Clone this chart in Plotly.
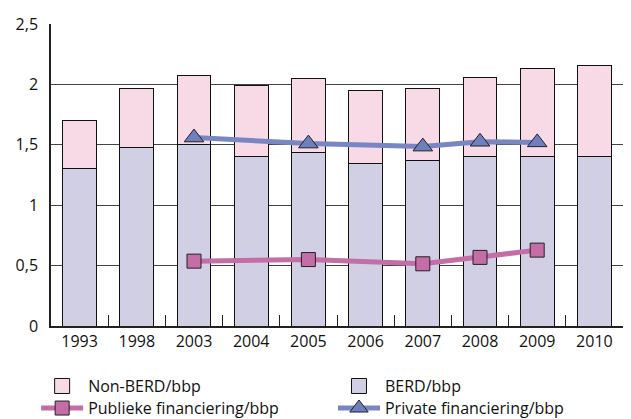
import plotly.graph_objects as go

years = ["1993", "1998", "2003", "2004", "2005", "2006", "2007", "2008", "2009", "2010"]
berd = [1.30, 1.48, 1.50, 1.40, 1.435, 1.345, 1.37, 1.405, 1.40, 1.40]
total = [1.70, 1.97, 2.07, 1.99, 2.05, 1.95, 1.97, 2.055, 2.135, 2.16]
non_berd = [round(t - b, 3) for t, b in zip(total, berd)]
publiek = [None, None, 0.537, None, 0.55, None, 0.515, 0.568, 0.628, None]
privaat = [None, None, 1.56, None, 1.51, None, 1.485, 1.525, 1.52, None]

y_ticks = [0, 0.5, 1, 1.5, 2, 2.5]
y_labels = ["0", "0,5", "1", "1,5", "2", "2,5"]

berd_color = "#D1CFE4"
non_berd_color = "#F8DAE7"

fig = go.Figure()

# stacked bars: BERD at the bottom, Non-BERD on top
fig.add_trace(go.Bar(
    x=years, y=berd, name="BERD/bbp", showlegend=False,
    marker=dict(color=berd_color, line=dict(color="#111111", width=1)),
))
fig.add_trace(go.Bar(
    x=years, y=non_berd, name="Non-BERD/bbp", showlegend=False,
    marker=dict(color=non_berd_color, line=dict(color="#111111", width=1)),
))
fig.add_trace(go.Scatter(
    x=years, y=publiek, name="Publieke financiering/bbp", legend="legend3",
    mode="lines+markers", connectgaps=True,
    line=dict(color="#C46DA6", width=5),
    marker=dict(symbol="square", size=14, color="#C46DA6",
                line=dict(color="#222222", width=1)),
))
fig.add_trace(go.Scatter(
    x=years, y=privaat, name="Private financiering/bbp", legend="legend4",
    mode="lines+markers", connectgaps=True,
    line=dict(color="#7886C2", width=5),
    marker=dict(symbol="triangle-up", size=17, color="#6E7FBD",
                line=dict(color="#222222", width=1)),
))

# legend-only entries so the bar swatches are as large as in the original
fig.add_trace(go.Scatter(
    x=[None], y=[None], mode="markers", name="Non-BERD/bbp", legend="legend",
    marker=dict(symbol="square", size=15, color=non_berd_color,
                line=dict(color="#111111", width=1)),
))
fig.add_trace(go.Scatter(
    x=[None], y=[None], mode="markers", name="BERD/bbp", legend="legend2",
    marker=dict(symbol="square", size=15, color=berd_color,
                line=dict(color="#111111", width=1)),
))

# one legend per entry so the 2x2 grid can be placed exactly
leg = dict(orientation="v", yanchor="middle", xanchor="left",
           font=dict(size=16), itemwidth=42, bgcolor="rgba(0,0,0,0)")
row1, row2 = -0.199, -0.272
col1, col2 = -0.026, 0.493

fig.update_layout(
    # page body adds an 8px margin, so the figure is 8px smaller
    width=623, height=411,
    margin=dict(l=43, r=8, t=16, b=93, autoexpand=False),
    paper_bgcolor="white", plot_bgcolor="white",
    barmode="stack", bargap=0.41,
    font=dict(family="Open Sans", size=16, color="#111111"),
    showlegend=True,
    legend=dict(leg, x=col1, y=row1),
    legend2=dict(leg, x=col2, y=row1),
    legend3=dict(leg, x=col1, y=row2),
    legend4=dict(leg, x=col2, y=row2),
    xaxis=dict(
        type="category", categoryarray=years, range=[-0.5, len(years) - 0.5],
        showgrid=False,
        showline=True, linecolor="#222222", linewidth=1.5,
        ticks="inside", tickson="boundaries", ticklen=11,
        tickcolor="#222222", tickwidth=1,
    ),
    yaxis=dict(
        range=[0, 2.5], tickvals=y_ticks, ticktext=y_labels,
        showgrid=True, gridcolor="#444444", gridwidth=1.2,
        showline=True, linecolor="#222222", linewidth=1.5,
        ticks="", ticklabelstandoff=8, zeroline=False,
    ),
)

fig.write_html("out.html")
